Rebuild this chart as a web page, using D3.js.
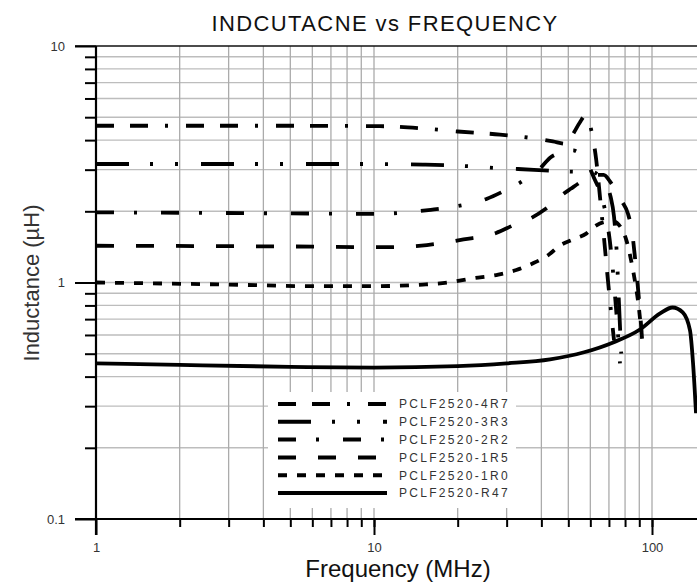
<!DOCTYPE html>
<html lang="en">
<head>
  <meta charset="utf-8">
  <title>Inductance vs Frequency</title>
  <script src="https://d3js.org/d3.v7.min.js"></script>
  <style>
  body { margin: 0; background: #fff; }
  text { font-family: "Liberation Sans", Arial, sans-serif; }
  </style>
</head>
<body>
<script>
  // tick labels
  var freqMajor = [1, 10, 100];
  var indMajor = [0.1, 1, 10];

  // legend names, top to bottom
  var names = ["PCLF2520-4R7", "PCLF2520-3R3", "PCLF2520-2R2",
               "PCLF2520-1R5", "PCLF2520-1R0", "PCLF2520-R47"];

  // [frequency MHz, inductance uH]
  var s4R7 = [[1,4.6],[5,4.6],[10.5,4.58],[15,4.48],[20,4.35],[28.4,4.22],[36.4,4.09],[44,3.95],
              [48.7,3.86],[52,4.25],[55,4.75],[57.5,5.07],[60.5,4.4],[63,3.3],[65,2.3],[67,1.6],
              [69,1.1],[71,0.78],[73,0.57]];
  var s3R3 = [[1,3.17],[10,3.17],[15,3.15],[22,3.1],[27,3.05],[33,3.02],[43,2.97],[53,2.94],
              [60,2.95],[64,2.85],[68,2.6],[71,2.3],[73,1.9],[74.5,1.4],[75.5,1.0],[76.5,0.7],[77.5,0.5]];
  var s2R2 = [[1,1.98],[5,1.96],[10,1.95],[12.4,1.97],[16,2.03],[21,2.13],[25.5,2.26],[29,2.42],
              [34,2.67],[39.5,3.03],[43,3.37],[48,3.56],[52,3.62],[55,3.5],[58.5,3.2],[62,2.75],
              [66,2.3],[69,1.8],[71.5,1.3],[73.5,0.9],[75.5,0.6],[76.7,0.455]];
  var s1R5 = [[1,1.43],[5,1.42],[11,1.41],[15.5,1.44],[21,1.52],[27.5,1.62],[31.5,1.74],[37,1.88],
              [42,2.07],[48,2.37],[51,2.49],[56,2.68],[62,2.85],[67,2.85],[71,2.65],[74,2.45],
              [78,2.2],[82,1.95],[85,1.6],[87,1.25],[89,0.95],[91,0.7],[93,0.49]];
  var s1R0 = [[1,1.0],[3,0.98],[6,0.965],[10,0.965],[15,0.98],[18.5,1.0],[22.5,1.04],[28,1.08],
              [32.5,1.13],[37,1.2],[42.5,1.31],[46.5,1.43],[52,1.52],[58,1.61],[62,1.72],[67,1.8],
              [72,1.82],[77,1.72],[81,1.5],[84,1.25],[87,1.0],[89.5,0.8],[91.5,0.62]];
  var sR47 = [[1,0.455],[2,0.448],[5,0.44],[10,0.437],[20,0.443],[30,0.455],[43,0.473],[57,0.507],
              [72.5,0.558],[90.5,0.633],[107,0.74],[118.5,0.784],[129,0.747],[137,0.627],
              [140.5,0.455],[144,0.28]];

  var seriesData = [s4R7, s3R3, s2R2, s1R5, s1R0, sR47];
  var dashes = ["18,16,18,17,3,18", "33,21,3,22,3,23", "18,20,3,24", "18,22", "9,10", null];

  var W = 697, H = 582;
  var pLeft = 96, pRight = 697, pTop = 46, pBottom = 519;

  var x = d3.scaleLog().domain([1, 100]).range([96, 652]);
  var y = d3.scaleLog().domain([0.1, 10]).range([pBottom, pTop]);

  var svg = d3.select('body').append('svg')
    .attr('width', W)
    .attr('height', H);

  // minor values for grid and small ticks
  var xMinor = [];
  [1, 10, 100].forEach(function(d) {
    for (var k = 1; k <= 9; k++) {
      var v = d * k;
      if (v > 1 && x(v) <= pRight) xMinor.push(v);
    }
  });
  var yMinor = [];
  [0.1, 1].forEach(function(d) {
    for (var k = 1; k <= 9; k++) {
      var v = d * k;
      if (v > 0.1) yMinor.push(v);
    }
  });

  // grid
  svg.append('g').selectAll('line')
    .data(yMinor).enter().append('line')
    .attr('x1', pLeft).attr('x2', pRight)
    .attr('y1', function(d) { return y(d); })
    .attr('y2', function(d) { return y(d); })
    .attr('stroke', '#bdbdbd').attr('stroke-width', 1.4);

  svg.append('g').selectAll('line')
    .data(xMinor).enter().append('line')
    .attr('x1', function(d) { return x(d); })
    .attr('x2', function(d) { return x(d); })
    .attr('y1', pTop).attr('y2', pBottom)
    .attr('stroke', '#ababab').attr('stroke-width', 1.3);

  // top frame line
  svg.append('line')
    .attr('x1', 75).attr('x2', pRight).attr('y1', pTop).attr('y2', pTop)
    .attr('stroke', '#111').attr('stroke-width', 1.5);

  // curves
  svg.append('clipPath').attr('id', 'plot')
    .append('rect').attr('x', pLeft).attr('y', pTop)
    .attr('width', pRight - pLeft).attr('height', pBottom - pTop);

  var line = d3.line()
    .x(function(d) { return x(d[0]); })
    .y(function(d) { return y(d[1]); })
    .curve(d3.curveMonotoneX);

  svg.append('g').attr('clip-path', 'url(#plot)')
    .selectAll('path')
    .data(seriesData).enter().append('path')
    .attr('d', line)
    .attr('fill', 'none')
    .attr('stroke', '#000')
    .attr('stroke-width', 3.8)
    .attr('stroke-dasharray', function(d, i) { return dashes[i]; });

  // legend
  var legend = svg.append('g');
  legend.append('rect')
    .attr('x', 268).attr('y', 392).attr('width', 248).attr('height', 116)
    .attr('fill', '#fff');
  var rows = legend.selectAll('g.row')
    .data(names).enter().append('g')
    .attr('class', 'row')
    .attr('transform', function(d, i) { return 'translate(0,' + (404 + i * 17.8) + ')'; });
  rows.append('line')
    .attr('x1', 278).attr('x2', 387)
    .attr('stroke', '#000').attr('stroke-width', 4)
    .attr('stroke-dasharray', function(d, i) { return dashes[i]; });
  rows.append('text')
    .attr('x', 399).attr('dy', '0.36em')
    .attr('font-family', "'Noto Sans', sans-serif")
    .attr('font-size', 12)
    .attr('letter-spacing', '2.3px')
    .attr('fill', '#333')
    .text(function(d) { return d; });

  // axes
  var xAxisMinor = d3.axisBottom(x).tickValues(xMinor).tickSize(8).tickFormat('');
  var xAxisMajor = d3.axisBottom(x).tickValues(freqMajor).tickSize(16).tickPadding(8)
    .tickFormat(d3.format('d'));
  var yAxisMinor = d3.axisLeft(y).tickValues(yMinor.filter(function(d) { return d !== 1; }))
    .tickSize(11).tickFormat('');
  var yAxisMajor = d3.axisLeft(y).tickValues(indMajor).tickSize(21).tickPadding(10)
    .tickFormat(function(d) { return d === 0.1 ? '0.1' : d; });

  [xAxisMinor, xAxisMajor].forEach(function(ax) {
    var g = svg.append('g').attr('transform', 'translate(0,' + pBottom + ')').call(ax);
    g.select('.domain').remove();
    g.selectAll('line').attr('stroke', '#000').attr('stroke-width', 2);
    g.selectAll('text').attr('font-size', 13).attr('fill', '#333')
      .attr('font-family', "'Liberation Sans', Arial, sans-serif");
  });
  [yAxisMinor, yAxisMajor].forEach(function(ax) {
    var g = svg.append('g').attr('transform', 'translate(' + pLeft + ',0)').call(ax);
    g.select('.domain').remove();
    g.selectAll('line').attr('stroke', '#000').attr('stroke-width', 2);
    g.selectAll('text').attr('font-size', 13).attr('fill', '#333')
      .attr('font-family', "'Liberation Sans', Arial, sans-serif");
  });

  svg.append('line')
    .attr('x1', pLeft).attr('x2', pLeft).attr('y1', pTop).attr('y2', pBottom + 16)
    .attr('stroke', '#000').attr('stroke-width', 2.2);
  svg.append('line')
    .attr('x1', 75).attr('x2', pRight).attr('y1', pBottom).attr('y2', pBottom)
    .attr('stroke', '#000').attr('stroke-width', 2.2);

  // titles
  svg.append('text')
    .attr('x', 385).attr('y', 31)
    .attr('text-anchor', 'middle')
    .attr('font-family', "'Noto Sans', sans-serif")
    .attr('font-size', 22)
    .attr('letter-spacing', '1.4px')
    .attr('fill', '#111')
    .text('INDCUTACNE vs FREQUENCY');

  svg.append('text')
    .attr('x', 398).attr('y', 577)
    .attr('text-anchor', 'middle')
    .attr('font-size', 24)
    .attr('fill', '#111')
    .text('Frequency (MHz)');

  svg.append('text')
    .attr('text-anchor', 'middle')
    .attr('transform', 'translate(31,283) rotate(-90)')
    .attr('dy', '0.35em')
    .attr('font-size', 22)
    .attr('fill', '#333')
    .text('Inductance (\u00b5H)');
</script>
</body>
</html>
